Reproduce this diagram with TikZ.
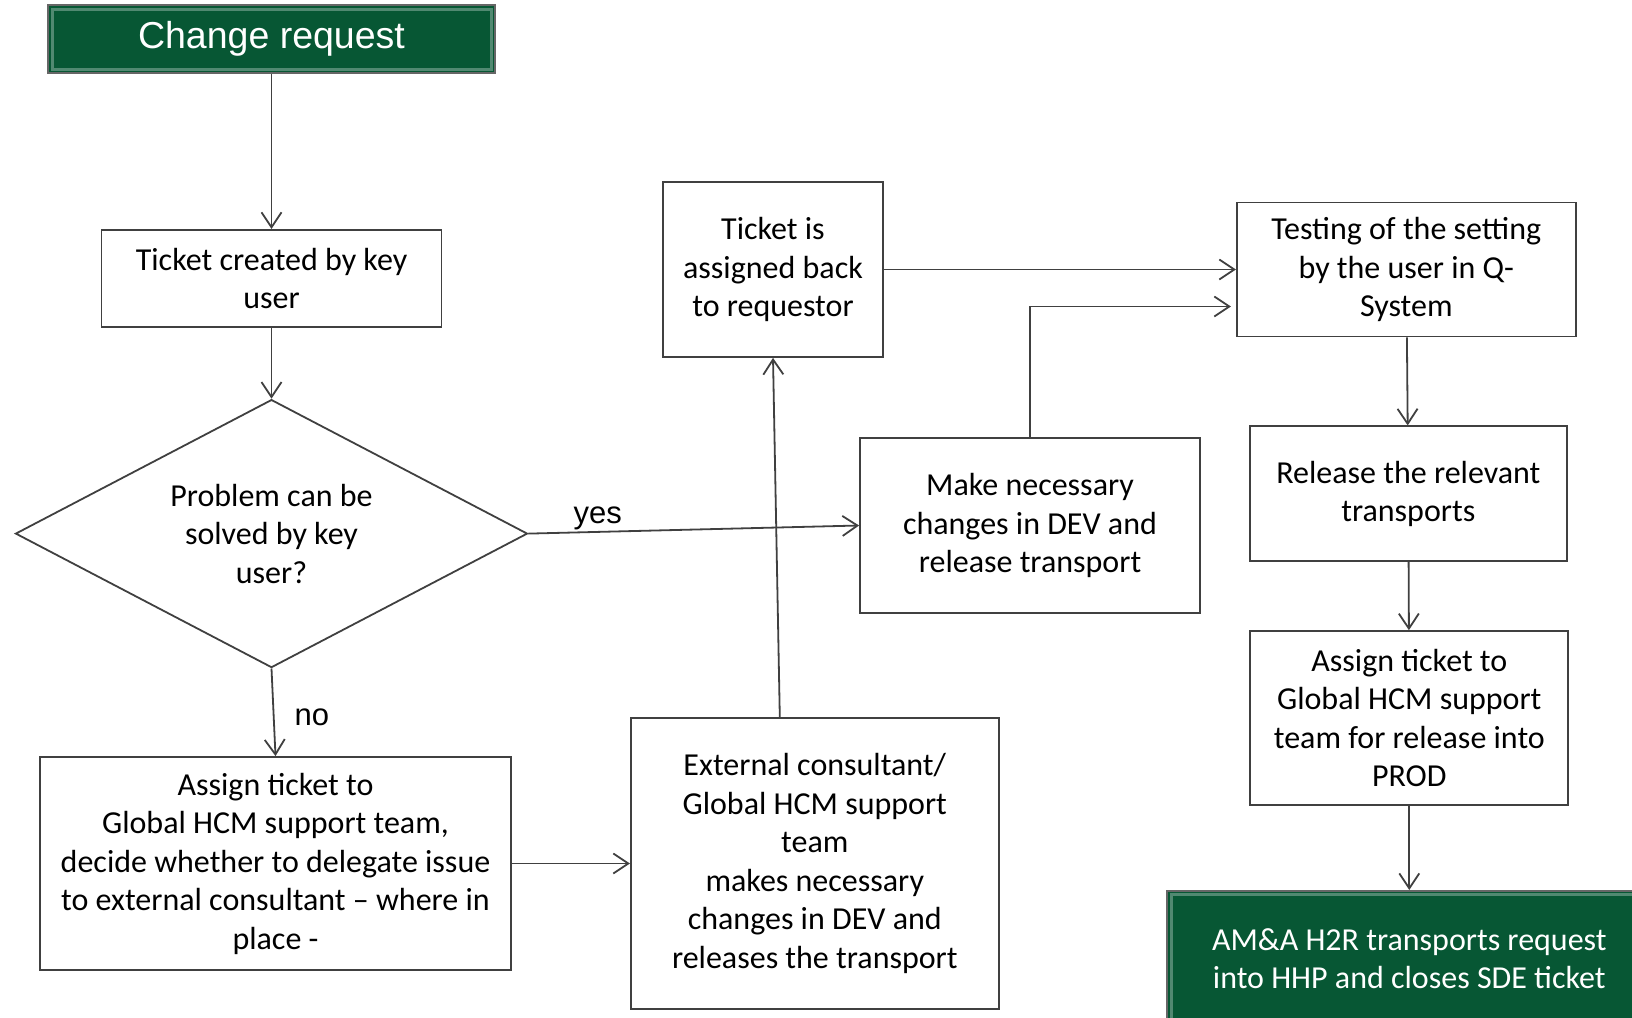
\documentclass[tikz,border=0pt]{standalone}
\usepackage{fontspec}
\setmainfont{Carlito}
\newfontfamily\arialfont{Liberation Sans}
\usetikzlibrary{positioning, shapes.geometric, arrows.meta}
\definecolor{hdrgreen}{HTML}{075734}
\definecolor{linegray}{HTML}{404040}
\tikzset{
  stepbox/.style={draw=linegray, line width=1.8pt, align=center, inner sep=0pt,
    font=\fontsize{32}{38.5}\selectfont},
  decision/.style={diamond, aspect=1.9, draw=linegray, line width=1.8pt, align=center,
    inner sep=0pt, font=\fontsize{32}{38.5}\selectfont},
  greenbox/.style={draw=linegray!80, line width=1.8pt, fill=hdrgreen, text=white,
    align=center, inner sep=0pt,
    path picture={\draw[hdrgreen!70!white, line width=3pt]
      ([shift={(4pt,-4pt)}]path picture bounding box.north west) rectangle
      ([shift={(-4pt,4pt)}]path picture bounding box.south east);}},
  flow/.style={draw=linegray, line width=1.8pt, -{Straight Barb[length=15pt,width=20pt]}},
  answer/.style={font=\arialfont\fontsize{31}{34}\selectfont}
}

\begin{document}
\begin{tikzpicture}[x=1pt, y=1pt]
  \useasboundingbox (0,0) rectangle (1632,-1017);

  \node[greenbox, minimum width=447pt, minimum height=68pt,
    font=\arialfont\fontsize{37.5}{40}\selectfont] (cr) at (271.5,-39) {Change request};
  \node[stepbox, minimum width=340pt, minimum height=97pt, below=155pt of cr] (tc)
    {Ticket created by key\\user};
  \node[decision, minimum width=512pt, minimum height=268pt, below=71pt of tc] (dm)
    {Problem can be\\solved by key\\user?};
  \node[stepbox, minimum width=471pt, minimum height=213pt] (as) at (275.5,-863.5)
    {Assign ticket to\\Global HCM support team,\\decide whether to delegate issue\\to external consultant -- where in\\place -};
  \node[stepbox, minimum width=368pt, minimum height=291pt, right=118pt of as] (ex)
    {External consultant/\\Global HCM support\\team\\makes necessary\\changes in DEV and\\releases the transport};
  \node[stepbox, minimum width=220pt, minimum height=175pt] (tb) at (773,-269.5)
    {Ticket is\\assigned back\\to requestor};
  \node[stepbox, minimum width=340pt, minimum height=175pt] (mk) at (1030,-525.5)
    {Make necessary\\changes in DEV and\\release transport};
  \node[stepbox, minimum width=339pt, minimum height=134pt, right=352pt of tb] (ts)
    {Testing of the setting\\by the user in Q-\\System};
  \node[stepbox, minimum width=317pt, minimum height=135pt, below=88pt of ts, xshift=2pt] (rl)
    {Release the relevant\\transports};
  \node[stepbox, minimum width=318pt, minimum height=174pt, below=68pt of rl, xshift=1pt] (ag)
    {Assign ticket to\\Global HCM support\\team for release into\\PROD};
  \node[greenbox, minimum width=484pt, minimum height=136pt, below=84pt of ag,
    font=\fontsize{32}{38.5}\selectfont] (am)
    {AM\&A H2R transports request\\into HHP and closes SDE ticket};

  % connectors
  \draw[flow] (cr) -- (tc);
  \draw[flow] (tc) -- (dm);
  \draw[flow] (dm.south) -- node[answer, right=17pt, yshift=-5pt] {no} (as.north);
  \draw[flow] (dm.east) -- node[answer, pos=0.21, above=-2pt] {yes} (mk.west);
  \draw[flow] (as) -- (ex);
  \draw[flow] ([xshift=-35pt]ex.north) -- (tb.south);
  \draw[flow] (tb) -- (ts);
  \draw[flow, shorten >=5pt] (mk.north) |- ([yshift=-37pt]ts.west);
  \draw[flow] (ts) -- (rl);
  \draw[flow] (rl) -- (ag);
  \draw[flow] (ag) -- (am);
\end{tikzpicture}
\end{document}
